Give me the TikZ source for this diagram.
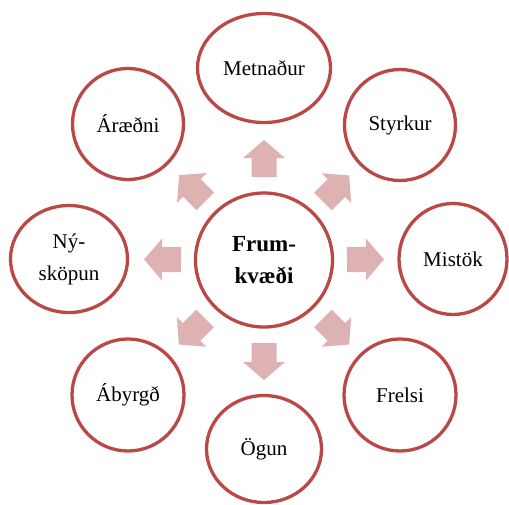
\documentclass[tikz,border=0pt]{standalone}
\usepackage{fontspec}
\setmainfont{Liberation Serif}
\usetikzlibrary{shapes.geometric,positioning,calc}

\definecolor{ringred}{RGB}{186,72,70}
\definecolor{arrowpink}{RGB}{222,178,178}

\begin{document}
\begin{tikzpicture}[x=1pt,y=-1pt,ring/.style={ellipse,draw=ringred,line width=3.3pt,inner sep=0pt,align=center,font=\fontsize{21}{32}\selectfont},main ring/.style={ring,font=\fontsize{23}{32}\selectfont\bfseries},block arrow/.style={fill=arrowpink,draw=none}]

                \useasboundingbox (0,0) rectangle (509,504);

                \node[main ring,minimum width=137pt,minimum height=134pt] (frum) at (264,260) {Frum-\\kvæði};

                \node[ring,minimum width=133pt,minimum height=109pt] (metn) at (264,68) {Metnaður};
                \node[ring,minimum width=111pt,minimum height=111pt] (styrk) at (400,125) {Styrkur};
                \node[ring,minimum width=108pt,minimum height=111pt] (mist) at (453,259) {Mistök};
                \node[ring,minimum width=112pt,minimum height=112pt] (frels) at (400,395) {Frelsi};
                \node[ring,minimum width=115pt,minimum height=107pt] (ogun) at (264,449) {Ögun};
                \node[ring,minimum width=112pt,minimum height=112pt] (abyrg) at (128,395) {Ábyrgð};
                \node[ring,minimum width=117pt,minimum height=107pt] (nysk) at (69,259) {Ný-\\sköpun};
                \node[ring,minimum width=111pt,minimum height=111pt] (araed) at (128,124) {Áræðni};

                % block arrows pointing out from the middle
                \foreach \dest in {metn,styrk,mist,frels,ogun,abyrg,nysk,araed}{
                    \fill[block arrow] let \p1 = ($(\dest)-(frum)$), \n1 = {atan2(\y1,\x1)} in
                        [shift={(frum.center)},rotate=\n1]
                        (83,-12.5) -- (102,-12.5) -- (102,-21) -- (120,0)
                        -- (102,21) -- (102,12.5) -- (83,12.5) -- cycle;
                }

\end{tikzpicture}
\end{document}
